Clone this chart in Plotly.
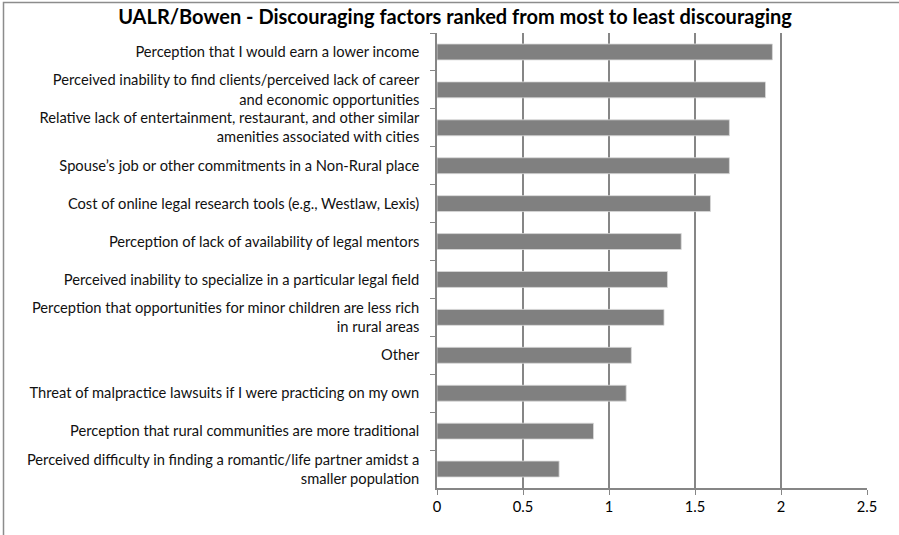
import plotly.graph_objects as go

categories = [
    "Perception that I would earn a lower income",
    "Perceived inability to find clients/perceived lack of career<br>and economic opportunities",
    "Relative lack of entertainment, restaurant, and other similar<br>amenities associated with cities",
    "Spouse\u2019s job or other commitments in a Non-Rural place",
    "Cost of online legal research tools (e.g., Westlaw, Lexis)",
    "Perception of lack of availability of legal mentors",
    "Perceived inability to specialize in a particular legal field",
    "Perception that opportunities for minor children are less rich<br>in rural areas",
    "Other",
    "Threat of malpractice lawsuits if I were practicing on my own",
    "Perception that rural communities are more traditional",
    "Perceived difficulty in finding a romantic/life partner amidst a<br>smaller population",
]
values = [1.95, 1.91, 1.70, 1.70, 1.59, 1.42, 1.34, 1.32, 1.13, 1.10, 0.91, 0.71]
x_ticks = [0, 0.5, 1, 1.5, 2, 2.5]
x_tick_labels = ["0", "0.5", "1", "1.5", "2", "2.5"]
title_text = "UALR/Bowen - Discouraging factors ranked from most to least discouraging"

W, H = 899, 535
ml, mr, mt, mb = 437, 32, 33, 47
pw, ph = W - ml - mr, H - mt - mb

fig = go.Figure(
    go.Bar(
        x=values,
        y=categories,
        orientation="h",
        marker=dict(color="#808080", line=dict(color="#d9d9d9", width=0.8)),
        width=0.42,
    )
)

fig.update_layout(
    width=W,
    height=H,
    margin=dict(l=ml, r=mr, t=mt, b=mb),
    paper_bgcolor="white",
    plot_bgcolor="white",
    font=dict(family="Lato, 'Open Sans', sans-serif", size=14.7, color="#111111"),
    showlegend=False,
    title=dict(
        text="<b>" + title_text + "</b>",
        x=455 / W,
        xanchor="center",
        y=1 - 17 / H,
        yanchor="middle",
        font=dict(family="Lato, sans-serif", size=20, color="#000000"),
    ),
    xaxis=dict(
        range=[0, 2.5],
        tickvals=x_ticks,
        ticktext=x_tick_labels,
        showgrid=True,
        gridcolor="#868686",
        gridwidth=1.5,
        zeroline=False,
        showline=True,
        linecolor="#868686",
        linewidth=1.5,
        ticks="outside",
        ticklen=5,
        tickcolor="#868686",
        tickfont=dict(size=14.7, color="#000000"),
    ),
    yaxis=dict(
        autorange="reversed",
        showgrid=False,
        zeroline=False,
        showline=True,
        linecolor="#868686",
        linewidth=1.5,
        ticks="outside",
        tickson="boundaries",
        ticklen=5,
        tickcolor="#868686",
        ticklabelstandoff=13,
        tickfont=dict(size=14.7, color="#111111"),
    ),
)

# outer chart border (top and left visible)
fig.add_shape(
    type="rect",
    xref="paper",
    yref="paper",
    x0=(3.5 - ml) / pw,
    x1=(W + 10 - ml) / pw,
    y0=-(mb + 10) / ph,
    y1=(ph + mt - 2.5) / ph,
    line=dict(color="#8c8c8c", width=1.5),
    fillcolor="rgba(0,0,0,0)",
    layer="below",
)

fig.write_html(
    "out.html",
    config={"displayModeBar": False},
    post_script="document.body.style.margin='0';document.body.style.overflow='hidden';",
)
